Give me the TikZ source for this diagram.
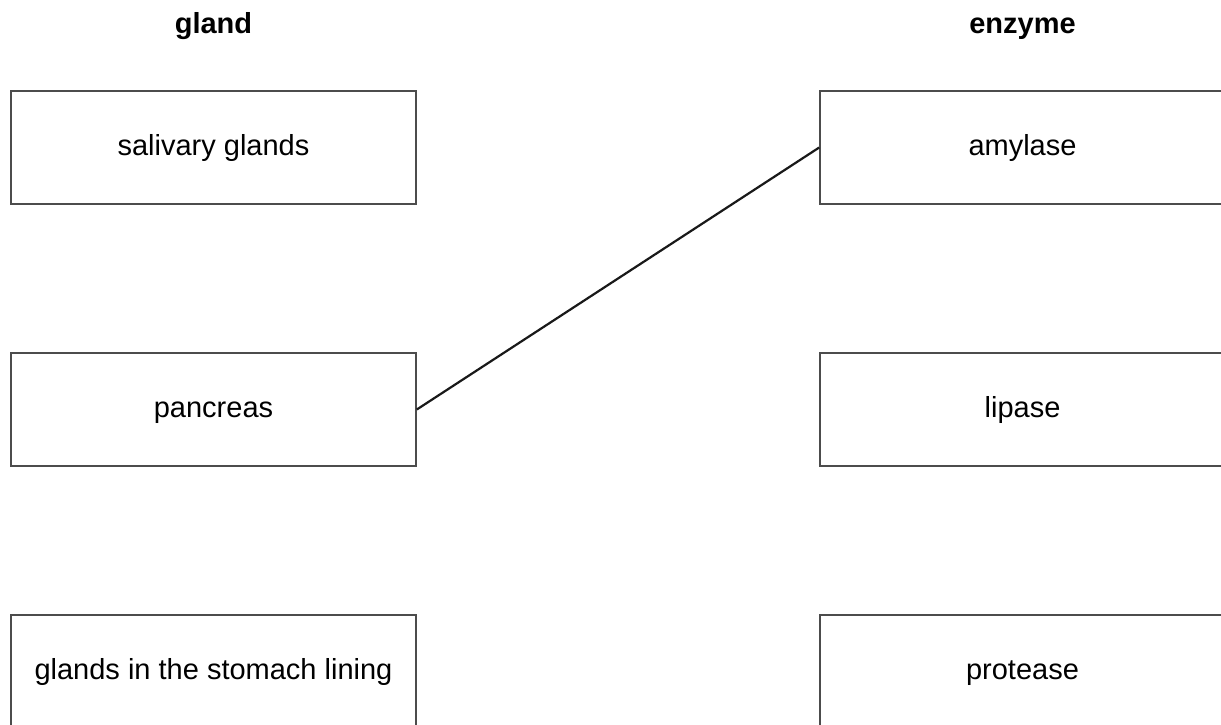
\documentclass[tikz,border=0pt]{standalone}
\usepackage{fontspec}
\setmainfont{Liberation Sans}
\usetikzlibrary{positioning}
\tikzset{matchbox/.style={draw=black!70, line width=1.6pt, minimum width=405pt, minimum height=113pt, inner sep=0pt, text height=21.5pt, text depth=6.5pt, font=\fontsize{29}{34}\selectfont}}
\tikzset{heading/.style={anchor=base, font=\fontsize{29}{34}\selectfont\bfseries}}
\tikzset{link/.style={line width=2.2pt, black!90}}

\begin{document}
\begin{tikzpicture}[x=1pt, y=-1pt]
  \useasboundingbox (0,0) rectangle (1221,724);
  \clip (0,0) rectangle (1221,724);

  % --- headings ---
  \node[heading] (glandhead) at (213.5,33) {gland};
  \node[heading] (enzymehead) at (1022.5,33) {enzyme};

  % --- gland boxes ---
  \node[matchbox] (salivary) at (213.5,147.5) {salivary glands};
  \node[matchbox] (pancreas) at (213.5,409.5) {pancreas};
  \node[matchbox] (stomach) at (213.5,671.5) {glands in the stomach lining};

  % --- enzyme boxes ---
  \node[matchbox] (amylase) at (1022.5,147.5) {amylase};
  \node[matchbox] (lipase) at (1022.5,409.5) {lipase};
  \node[matchbox] (protease) at (1022.5,671.5) {protease};

  \draw[link] (pancreas.east) -- (amylase.west);
\end{tikzpicture}
\end{document}
